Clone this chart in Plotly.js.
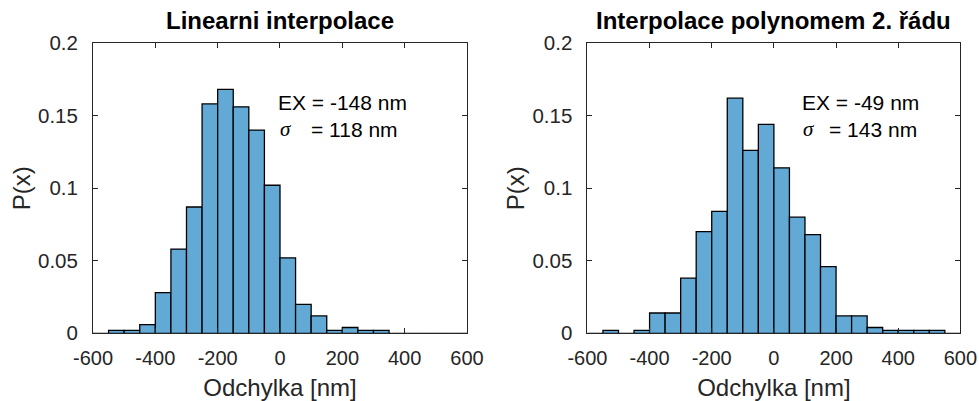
<!DOCTYPE html>
<html>
<head>
<meta charset="utf-8">
<script src="https://cdn.plot.ly/plotly-3.0.1.min.js"></script>
<style>html,body{margin:0;padding:0;background:#fff;}#chart{width:979px;height:401px;}</style>
</head>
<body>
<div id="chart"></div>
<script>
// Bin centres (bin width 50 nm)
const binCenters = [-575,-525,-475,-425,-375,-325,-275,-225,-175,-125,-75,-25,25,75,125,175,225,275,325,375,425,475,525,575];
// Left: Linearni interpolace
const linearP = [0,0.002,0.002,0.006,0.028,0.058,0.087,0.158,0.168,0.156,0.140,0.102,0.052,0.020,0.012,0.002,0.004,0.002,0.002,0,0,0,0,0];
// Right: Interpolace polynomem 2. radu
const polyP = [0,0.002,0,0.002,0.014,0.014,0.038,0.070,0.084,0.162,0.126,0.144,0.114,0.080,0.068,0.046,0.012,0.012,0.004,0.002,0.002,0.002,0.002,0];
const xTickVals = [-600,-400,-200,0,200,400,600];
const xTickText = ['-600','-400','-200','0','200','400','600'];
const yTickVals = [0,0.05,0.1,0.15,0.2];
const yTickText = ['0','0.05','0.1','0.15','0.2'];
const titles = ['Linearni interpolace','Interpolace polynomem 2. řádu'];
const exText = ['EX = -148 nm','EX = -49 nm'];
const sigmaText = ['= 118 nm','= 143 nm'];

const barColor = '#63A9D6';
const axisCol = '#262626';
const fam = 'Liberation Sans, Arial, Helvetica, sans-serif';
const serif = 'Liberation Serif, Times New Roman, serif';

function bar(y, xa, ya){
  return {type:'bar', x:binCenters, y:y, width:50, xaxis:xa, yaxis:ya,
    marker:{color:barColor, line:{color:'#000', width:1.3}}, hoverinfo:'x+y', showlegend:false};
}
const data = [bar(linearP,'x','y'), bar(polyP,'x2','y2')];

function xax(domain, anchor){
  return {domain:domain, anchor:anchor, range:[-600,600], tickvals:xTickVals, ticktext:xTickText,
    ticks:'inside', ticklen:5, tickwidth:1, tickcolor:axisCol, showline:true, linecolor:axisCol, linewidth:1,
    mirror:'ticks', showgrid:false, zeroline:false, ticklabelstandoff:7,
    tickfont:{family:fam, size:20, color:axisCol},
    title:{text:'Odchylka [nm]', font:{family:fam, size:24, color:axisCol}, standoff:12}};
}
function yax(domain, anchor){
  return {domain:domain, anchor:anchor, range:[0,0.2], tickvals:yTickVals, ticktext:yTickText,
    ticks:'inside', ticklen:5, tickwidth:1, tickcolor:axisCol, showline:true, linecolor:axisCol, linewidth:1,
    mirror:'ticks', showgrid:false, zeroline:false, ticklabelstandoff:10,
    tickfont:{family:fam, size:20.5, color:axisCol},
    title:{text:'P(x)', font:{family:fam, size:24, color:axisCol}, standoff:0}};
}
const yd = [0.1688, 0.8928];
function ann(text, xref, yref, x, y, font, extra){
  return Object.assign({text:text, xref:xref, yref:yref, x:x, y:y, xanchor:'left', yanchor:'middle', showarrow:false, font:font}, extra||{});
}
const annFont = {family:fam, size:21, color:'#000'};
const sigFont = {family:serif, size:21, color:'#000'};
const titleFont = {family:fam, size:24, color:'#000'};
const layout = {
  width:979, height:401, margin:{l:0,r:0,t:0,b:0}, paper_bgcolor:'#fff', plot_bgcolor:'#fff',
  barmode:'overlay',
  xaxis: xax([0.095,0.477],'y'),
  yaxis: yax(yd,'x'),
  xaxis2: xax([0.6,0.981],'y2'),
  yaxis2: yax(yd,'x2'),
  annotations:[
    ann('<b>'+titles[0]+'</b>','x domain','paper',0.5,1-21/401,titleFont,{xanchor:'center'}),
    ann('<b>'+titles[1]+'</b>','x2 domain','paper',0.5,1-21/401,titleFont,{xanchor:'center'}),
    ann(exText[0],'x','y',-12,0.159,annFont),
    ann('<i>σ</i>','x','y',-8,0.1405,sigFont),
    ann(sigmaText[0],'x','y',94,0.1405,annFont),
    ann(exText[1],'x2','y2',84,0.159,annFont),
    ann('<i>σ</i>','x2','y2',88,0.1405,sigFont),
    ann(sigmaText[1],'x2','y2',172,0.1405,annFont)
  ]
};
Plotly.newPlot('chart', data, layout, {displayModeBar:false, staticPlot:true});
</script>
</body>
</html>
